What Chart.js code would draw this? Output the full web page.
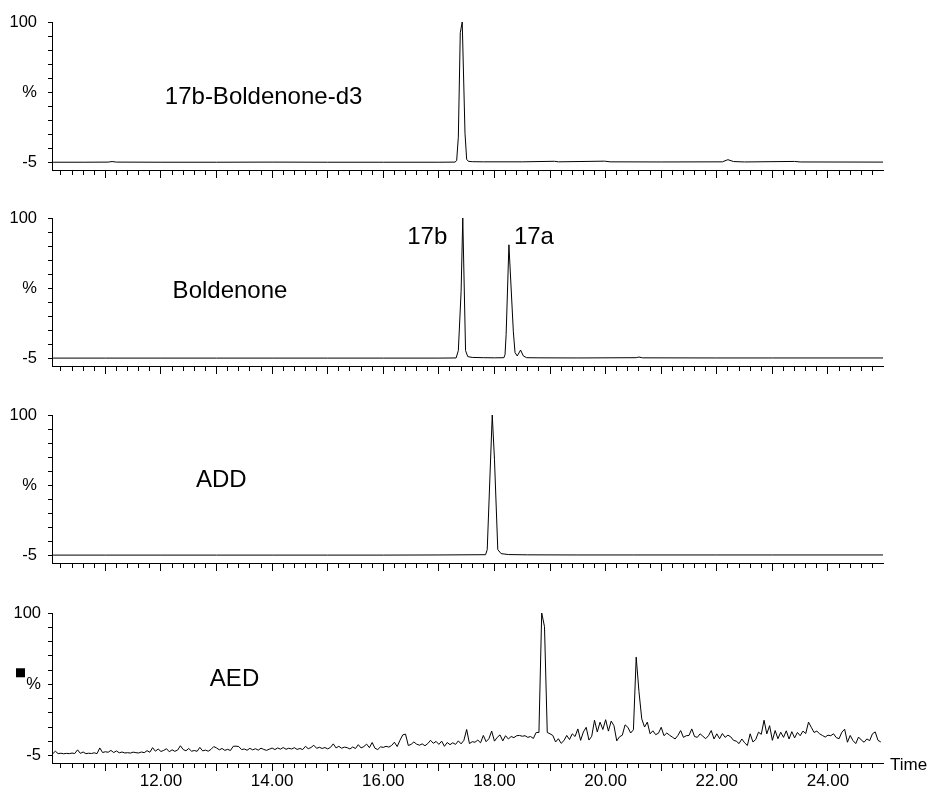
<!DOCTYPE html>
<html>
<head>
<meta charset="utf-8">
<script src="https://cdn.jsdelivr.net/npm/chart.js@4"></script>
<style>
    html, body { margin: 0; padding: 0; background: #fff; }
    #wrap { position: relative; width: 928px; height: 787px; }
    canvas { position: absolute; left: 0; }
</style>
</head>
<body>
<div id="wrap">
    <canvas id="c1" width="928" height="197" style="top:0px"></canvas>
    <canvas id="c2" width="928" height="196" style="top:197px"></canvas>
    <canvas id="c3" width="928" height="197" style="top:393px"></canvas>
    <canvas id="c4" width="928" height="197" style="top:590px"></canvas>
</div>
<script>
// axes
const X_MIN = 10.04;
const X_MAX = 24.99;
const Y_MIN = -10.5;
const Y_MAX = 100;
const X_LABELS = [12, 14, 16, 18, 20, 22, 24];
const Y_TICKS = [-5, 5.5, 16, 26.5, 37, 47.5, 58, 68.5, 79, 89.5, 100];
const Y_TICK_LABELS = ['-5', '', '', '', '', '%', '', '', '', '', '100'];

// trace names and peak labels
const PANEL_NAMES = ['17b-Boldenone-d3', 'Boldenone', 'ADD', 'AED'];
const PEAK_NAMES = ['17b', '17a'];

// 17b-Boldenone-d3 [time, %]
const D3_TRACE = [
    [10.06, -4.7], [10.6, -4.7], [11.05, -4.6], [11.12, -4.2], [11.2, -4.6], [12.0, -4.7],
    [13.0, -4.7], [14.0, -4.6], [15.0, -4.7], [16.0, -4.7], [17.0, -4.7], [17.29, -4.6],
    [17.32, -3.5], [17.35, 14], [17.385, 92], [17.42, 100], [17.47, 17], [17.50, -2.5],
    [17.53, -4.0], [17.6, -4.3], [17.8, -4.4], [18.5, -4.4], [19.08, -4.0], [19.15, -4.4],
    [19.98, -3.9], [20.08, -4.4], [21.0, -4.5], [22.1, -4.4], [22.2, -2.8], [22.3, -4.2],
    [22.5, -4.5], [23.4, -4.1], [23.5, -4.5], [24.99, -4.6]
];

// Boldenone
const BOLD_TRACE = [
    [10.06, -4.6], [11.0, -4.6], [12.0, -4.6], [13.0, -4.6], [14.0, -4.6], [15.0, -4.6],
    [16.0, -4.6], [17.0, -4.6], [17.31, -4.5], [17.35, 1], [17.40, 45], [17.43, 100],
    [17.48, 1], [17.52, -3.5], [17.6, -4.1], [17.8, -4.3], [18.0, -4.4], [18.17, -4.3],
    [18.19, -2], [18.21, 13], [18.26, 80], [18.34, 15], [18.37, -0.5], [18.41, -3],
    [18.47, 1.4], [18.52, -3], [18.58, -4.3], [18.8, -4.4], [19.5, -4.5], [20.55, -4.3],
    [20.6, -3.8], [20.66, -4.4], [22.0, -4.5], [23.0, -4.5], [24.99, -4.5]
];

// ADD
const ADD_TRACE = [
    [10.06, -4.6], [11.0, -4.6], [12.0, -4.6], [13.0, -4.6], [14.0, -4.6], [15.0, -4.6],
    [16.0, -4.6], [17.0, -4.5], [17.84, -4.3], [17.87, -0.5], [17.96, 100], [18.00, 67],
    [18.06, -0.5], [18.12, -3.5], [18.25, -4.2], [18.6, -4.4], [19.5, -4.5], [20.5, -4.5],
    [22.0, -4.5], [23.0, -4.5], [24.99, -4.5]
];

// AED, one value per scan, scans every 0.05 min from 10.05
const AED_START = 10.05;
const AED_STEP = 0.05;
const AED_TRACE = [
    -3.8, -1.8, -3.6, -3.3, -3.7, -3.4, -3.6, -3.2, -3.5, -0.8, -3.4, -2.4, -3.6, -3.3, -3.5, -3.0, -3.6, 0.6, -2.8, -2.2,
    -2.6, -1.2, -2.8, -1.6, -3.0, -2.4, -3.1, -2.9, -3.2, -2.5, -2.9, -3.1, -2.4, -2.9, -1.4, -2.6, 0.8, -1.8, -0.2, -2.0,
    -1.2, 0.0, -2.2, -0.8, -1.9, -1.0, 2.2, -0.6, -1.5, 0.2, -1.8, -1.3, -1.9, 1.0, -1.6, -1.0, -1.8, -0.5, 1.6, 0.6,
    -0.8, 0.2, -1.2, -0.4, -1.3, 1.8, 1.9, 1.6, -0.6, -0.2, -1.1, 0.3, -0.8, 0.0, -1.0, 0.4, -0.5, -1.2, -0.3, 0.5,
    -0.6, 0.6, -0.3, 0.9, -0.4, 0.4, -0.2, 0.8, -0.5, 0.2, -0.6, 1.8, 0.0, 0.9, 2.6, 0.3, 1.1, 0.2, 0.9, -0.1,
    1.0, 3.6, 0.6, 1.8, 0.4, 1.2, 0.8, -0.2, 1.3, 0.2, 3.0, 0.6, 1.6, 3.4, 0.8, 4.6, 0.4, -0.6, 1.4, 1.0,
    1.8, 1.2, 2.4, 4.8, 1.6, 6.2, 10.2, 10.8, 2.4, 3.2, 5.0, 3.4, 2.6, 3.6, 2.2, 3.8, 6.2, 4.0, 5.4, 3.2,
    5.6, 1.8, 4.6, 3.0, 4.4, 3.2, 5.8, 3.6, 6.2, 14.2, 3.8, 5.2, 4.8, 6.4, 4.4, 9.8, 5.2, 7.4, 13.0, 5.6,
    8.4, 10.2, 5.8, 9.6, 7.2, 9.0, 8.2, 9.6, 9.8, 9.2, 9.6, 8.4, 9.0, 7.6, 12.0, 12.0, 100, 90, 12.0, 11.0,
    9.8, 5.0, 7.4, 4.0, 6.0, 9.8, 6.8, 11.0, 9.0, 14.6, 6.2, 12.4, 15.8, 6.4, 9.2, 21.0, 12.4, 19.6, 14.2, 21.4,
    13.0, 20.4, 17.0, 5.8, 8.8, 10.0, 17.6, 15.8, 11.6, 14.0, 67.5, 42.0, 22.0, 16.0, 19.6, 11.0, 13.2, 10.4, 11.4, 15.8,
    9.6, 11.6, 10.0, 8.6, 7.2, 9.8, 13.4, 8.4, 9.6, 9.8, 14.6, 9.0, 8.4, 11.0, 9.2, 7.4, 9.6, 13.4, 7.2, 11.0,
    7.4, 11.2, 8.4, 10.0, 8.8, 6.2, 5.6, 3.8, 7.2, 4.4, 2.4, 11.0, 5.0, 6.8, 12.2, 10.6, 21.0, 11.0, 17.0, 6.2,
    13.4, 7.4, 12.2, 8.4, 13.2, 7.2, 12.6, 8.0, 12.0, 9.6, 13.0, 11.2, 19.6, 15.8, 12.0, 13.0, 11.0, 9.8, 8.6, 10.0,
    9.6, 11.0, 8.2, 7.4, 12.2, 14.4, 4.8, 9.8, 6.0, 3.8, 8.6, 6.4, 4.8, 7.2, 6.0, 11.0, 12.4, 6.2, 5.0
];

const FONT = '"Liberation Sans", Arial, sans-serif';
Chart.defaults.font.family = FONT;
Chart.defaults.color = '#000';

function aedPoints() {
    return AED_TRACE.map((v, i) => ({ x: AED_START + i * AED_STEP, y: v }));
}

function pairs(list) {
    return list.map(p => ({ x: p[0], y: p[1] }));
}

const isMajor = v => Math.abs(v - Math.round(v)) < 1e-6;

// text drawn in data coordinates of each panel: [text, time, value at baseline]
const panelText = [
    [[PANEL_NAMES[0], 12.07, 38.7]],
    [[PANEL_NAMES[1], 12.21, 40.5], [PEAK_NAMES[0], 16.43, 80.9], [PEAK_NAMES[1], 18.35, 80.9]],
    [[PANEL_NAMES[2], 12.63, 46.0]],
    [[PANEL_NAMES[3], 12.88, 46.0]]
];

const textPlugin = {
    id: 'panelText',
    afterDraw(chart, args, opts) {
        const { ctx, scales: { x, y }, chartArea } = chart;
        ctx.save();
        ctx.fillStyle = '#000';
        ctx.textBaseline = 'alphabetic';
        ctx.textAlign = 'left';
        ctx.font = '24px ' + FONT;
        opts.items.forEach(([t, tx, ty]) => {
            ctx.fillText(t, x.getPixelForValue(tx), y.getPixelForValue(ty));
        });
        if (opts.bottom) {
            ctx.font = '17px ' + FONT;
            ctx.fillText('Time', chartArea.right + 7, chartArea.bottom + 7);
            // small marker left of the % label
            const my = y.getPixelForValue(Y_TICKS[5]);
            ctx.fillRect(chartArea.left - 36, my - 16, 9, 9);
        }
        ctx.restore();
    }
};

function makePanel(id, data, idx, padTop, axisH) {
    const bottom = idx === 3;
    new Chart(document.getElementById(id), {
        type: 'line',
        data: {
            datasets: [{
                data: data,
                borderColor: '#000',
                borderWidth: 1,
                pointRadius: 0,
                tension: 0,
                fill: false
            }]
        },
        options: {
            responsive: false,
            animation: false,
            devicePixelRatio: 1,
            parsing: false,
            layout: { padding: { top: padTop, right: 45, left: 0, bottom: 0 } },
            plugins: {
                legend: { display: false },
                tooltip: { enabled: false },
                panelText: { items: panelText[idx], bottom: bottom }
            },
            scales: {
                x: {
                    type: 'linear',
                    min: X_MIN,
                    max: X_MAX,
                    afterBuildTicks: axis => {
                        const t = [];
                        for (let k = 51; k <= 124; k++) t.push({ value: k / 5 });
                        axis.ticks = t;
                    },
                    afterFit: axis => { axis.height = axisH; },
                    ticks: {
                        autoSkip: false,
                        maxRotation: 0,
                        minRotation: 0,
                        padding: 0,
                        font: { size: 17 },
                        callback: v => {
                            const r = Math.round(v * 100) / 100;
                            return bottom && X_LABELS.includes(r) ? r.toFixed(2) : '';
                        }
                    },
                    grid: {
                        drawOnChartArea: false,
                        tickLength: 8,
                        tickColor: '#000',
                        tickWidth: 1,
                        tickBorderDash: c => (c.tick && isMajor(c.tick.value)) ? [] : [4, 20]
                    },
                    border: { color: '#000', width: 1 }
                },
                y: {
                    type: 'linear',
                    min: Y_MIN,
                    max: Y_MAX,
                    afterBuildTicks: axis => {
                        axis.ticks = Y_TICKS.map(v => ({ value: v }));
                    },
                    afterFit: axis => { axis.width = 52; },
                    ticks: {
                        autoSkip: false,
                        padding: bottom ? 7 : 11,
                        font: { size: 16.5 },
                        callback: v => {
                            const i = Y_TICKS.findIndex(t => Math.abs(t - v) < 1e-6);
                            return i >= 0 ? Y_TICK_LABELS[i] : '';
                        }
                    },
                    grid: {
                        drawOnChartArea: false,
                        tickLength: 4,
                        tickColor: '#000',
                        tickWidth: 1
                    },
                    border: { color: '#000', width: 1 }
                }
            }
        },
        plugins: [textPlugin]
    });
}

makePanel('c1', pairs(D3_TRACE), 0, 22, 27);
makePanel('c2', pairs(BOLD_TRACE), 1, 21, 27);
makePanel('c3', pairs(ADD_TRACE), 2, 22, 27);
makePanel('c4', aedPoints(), 3, 23, 24);
</script>
</body>
</html>
